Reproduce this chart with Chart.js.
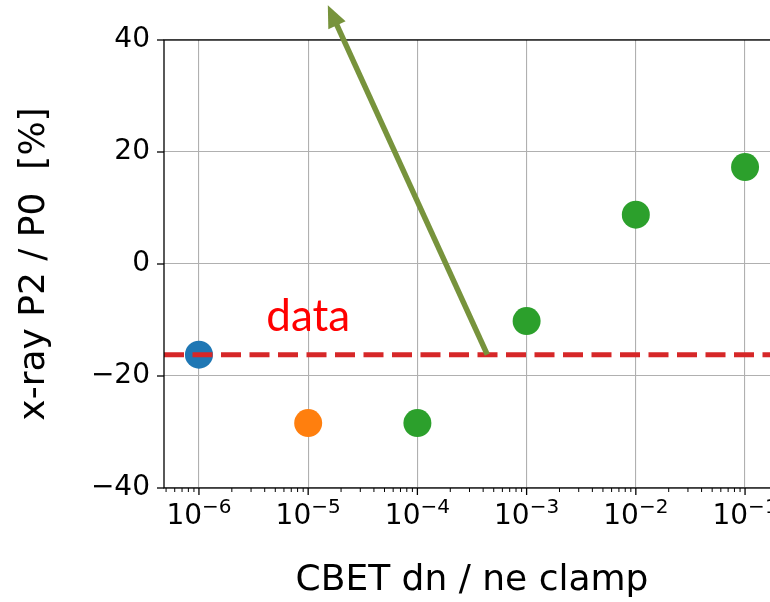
<!DOCTYPE html>
<html>
<head>
<meta charset="utf-8">
<script src="https://cdn.jsdelivr.net/npm/chart.js@4/dist/chart.umd.min.js"></script>
<style>
  html, body { margin: 0; padding: 0; background: #fff; overflow: hidden; width: 770px; height: 602px; }
  #wrap { width: 800px; height: 602px; }
</style>
</head>
<body>
<div id="wrap"><canvas id="c" width="800" height="602"></canvas></div>
<script>
// CBET clamp scan: x-ray P2/P0 asymmetry versus the dn/ne clamp value
const clampValues = [1e-6, 1e-5, 1e-4, 1e-3, 1e-2, 1e-1];
const p2OverP0 = [-16.2, -28.4, -28.4, -10.2, 8.8, 17.3];
const pointColors = ['#1f77b4', '#ff7f0e', '#2ca02c', '#2ca02c', '#2ca02c', '#2ca02c'];

// measured value shown as the dashed reference line
const measuredLevel = -16.2;
const measuredLabel = 'data';
const measuredLabelAt = { x: 1e-5, y: -12 };

// trend arrow, from the reference line up past the top of the axes
const arrowFrom = { x: Math.pow(10, -3.36), y: measuredLevel };
const arrowTo = { x: Math.pow(10, -4.82), y: 46.2 };

const yTickValues = [-40, -20, 0, 20, 40];
const xExponents = [-7, -6, -5, -4, -3, -2, -1, 0];
const xLimits = [Math.pow(10, -6.32), Math.pow(10, -0.68)];
const yLimits = [-40, 40];

const xTitle = 'CBET dn / ne clamp';
const yTitle = 'x-ray P2 / P0  [%]';

function isDecade(v) {
  const l = Math.log10(v);
  return Math.abs(l - Math.round(l)) < 1e-9;
}
function logTicks() {
  const out = [];
  xExponents.forEach(e => {
    for (let m = 1; m <= 9; m++) {
      const v = m * Math.pow(10, e);
      if (v >= xLimits[0] && v <= xLimits[1]) out.push({ value: v, major: m === 1 });
    }
  });
  return out;
}
const minus = v => (v < 0 ? '\u2212' + Math.abs(v) : String(v));

const FONT = 'DejaVu Sans';
const TICK_SIZE = 28;
const GRID = '#b0b0b0';
const INK = '#000000';

const axesDecor = {
  id: 'axesDecor',
  afterDatasetsDraw(chart) {
    const { ctx, chartArea: a, scales } = chart;
    const xs = scales.x, ys = scales.y;
    ctx.save();
    ctx.strokeStyle = INK;
    // tick marks, pointing outward
    xs.ticks.forEach(t => {
      const px = xs.getPixelForValue(t.value);
      if (px < a.left - 0.5 || px > a.right + 0.5) return;
      const major = isDecade(t.value);
      ctx.lineWidth = major ? 1.3 : 1;
      ctx.beginPath();
      ctx.moveTo(px, a.bottom);
      ctx.lineTo(px, a.bottom + (major ? 7 : 4));
      ctx.stroke();
    });
    ys.ticks.forEach(t => {
      const py = ys.getPixelForValue(t.value);
      ctx.lineWidth = 1.3;
      ctx.beginPath();
      ctx.moveTo(a.left, py);
      ctx.lineTo(a.left - 7, py);
      ctx.stroke();
    });
    // frame
    ctx.lineWidth = 1.3;
    ctx.strokeRect(a.left, a.top, a.right - a.left, a.bottom - a.top);

    // decade labels as 10 with a raised exponent
    ctx.fillStyle = INK;
    ctx.textBaseline = 'alphabetic';
    ctx.textAlign = 'left';
    const baseFont = TICK_SIZE + 'px "' + FONT + '"';
    const supFont = Math.round(TICK_SIZE * 0.7) + 'px "' + FONT + '"';
    xs.ticks.forEach(t => {
      if (!isDecade(t.value)) return;
      const px = xs.getPixelForValue(t.value);
      if (px < a.left - 0.5 || px > a.right + 0.5) return;
      const exp = minus(Math.round(Math.log10(t.value)));
      ctx.font = baseFont;
      const wBase = ctx.measureText('10').width;
      ctx.font = supFont;
      const wSup = ctx.measureText(exp).width;
      const x0 = px - (wBase + wSup) / 2;
      ctx.font = baseFont;
      ctx.fillText('10', x0, a.bottom + 36);
      ctx.font = supFont;
      ctx.fillText(exp, x0 + wBase, a.bottom + 25);
    });
    ctx.restore();
  },
  afterDraw(chart) {
    const { ctx, scales } = chart;
    const xs = scales.x, ys = scales.y;
    ctx.save();
    // label of the reference line
    ctx.fillStyle = '#ff0000';
    ctx.font = '44px Lato';
    ctx.textAlign = 'center';
    ctx.textBaseline = 'alphabetic';
    ctx.fillText(measuredLabel, xs.getPixelForValue(measuredLabelAt.x), ys.getPixelForValue(measuredLabelAt.y));
    // arrow
    const x0 = xs.getPixelForValue(arrowFrom.x), y0 = ys.getPixelForValue(arrowFrom.y);
    const x1 = xs.getPixelForValue(arrowTo.x), y1 = ys.getPixelForValue(arrowTo.y);
    const len = Math.hypot(x1 - x0, y1 - y0);
    const ux = (x1 - x0) / len, uy = (y1 - y0) / len;
    const headLen = 22, headHalf = 9.5;
    const bx = x1 - ux * headLen, by = y1 - uy * headLen;
    ctx.strokeStyle = '#77933c';
    ctx.fillStyle = '#77933c';
    ctx.lineWidth = 5.5;
    ctx.beginPath();
    ctx.moveTo(x0, y0);
    ctx.lineTo(bx + ux * 2, by + uy * 2);
    ctx.stroke();
    ctx.beginPath();
    ctx.moveTo(x1, y1);
    ctx.lineTo(bx - uy * headHalf, by + ux * headHalf);
    ctx.lineTo(bx + uy * headHalf, by - ux * headHalf);
    ctx.closePath();
    ctx.fill();
    ctx.restore();
  }
};

new Chart(document.getElementById('c'), {
  type: 'scatter',
  data: {
    datasets: [
      {
        type: 'line',
        data: [{ x: xLimits[0], y: measuredLevel }, { x: xLimits[1], y: measuredLevel }],
        borderColor: '#d62728',
        borderWidth: 5,
        borderDash: [20, 8.5],
        pointRadius: 0,
        fill: false,
        order: -1
      },
      {
        data: clampValues.map((x, i) => ({ x, y: p2OverP0[i] })),
        pointRadius: 14,
        pointHoverRadius: 14,
        pointBackgroundColor: pointColors,
        pointBorderWidth: 0,
        borderWidth: 0,
        order: 0
      }
    ]
  },
  options: {
    responsive: false,
    animation: false,
    events: [],
    layout: { padding: { left: 0, right: 20, top: 40, bottom: 0 } },
    plugins: { legend: { display: false }, tooltip: { enabled: false } },
    scales: {
      x: {
        type: 'logarithmic',
        position: 'bottom',
        min: xLimits[0],
        max: xLimits[1],
        afterBuildTicks: s => { s.ticks = logTicks(); },
        afterFit: s => { s.height = 114; },
        ticks: {
          autoSkip: false,
          maxRotation: 0,
          minRotation: 0,
          callback: () => ''
        },
        grid: {
          drawTicks: false,
          lineWidth: 1.1,
          color: c => (c.tick && isDecade(c.tick.value) ? GRID : 'rgba(0,0,0,0)')
        },
        border: { display: false },
        title: {
          display: true,
          text: xTitle,
          color: INK,
          font: { family: FONT, size: 36 },
          padding: { top: 0, bottom: 0 }
        }
      },
      y: {
        type: 'linear',
        position: 'left',
        min: yLimits[0],
        max: yLimits[1],
        afterBuildTicks: s => { s.ticks = yTickValues.map(v => ({ value: v })); },
        afterFit: s => { s.width = 164; },
        ticks: {
          padding: 14,
          color: INK,
          font: { family: FONT, size: TICK_SIZE },
          callback: v => minus(v)
        },
        grid: { drawTicks: false, lineWidth: 1.1, color: GRID },
        border: { display: false },
        title: {
          display: true,
          text: yTitle,
          color: INK,
          font: { family: FONT, size: 36 },
          padding: { top: 13, bottom: 0 }
        }
      }
    }
  },
  plugins: [axesDecor]
});
</script>
</body>
</html>
